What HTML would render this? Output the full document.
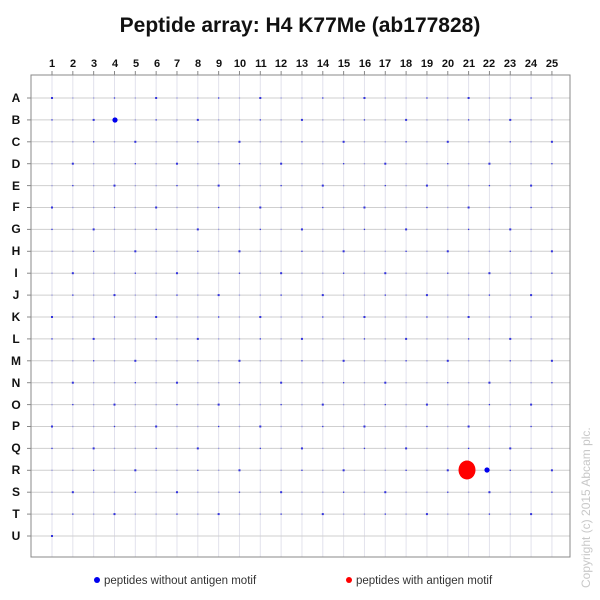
<!DOCTYPE html>
<html><head><meta charset="utf-8"><style>
html,body{margin:0;padding:0;background:#fff;width:600px;height:600px;overflow:hidden}
svg{display:block}
text{font-family:"Liberation Sans",Arial,sans-serif}
</style></head><body>
<svg id="s" width="600" height="600" xmlns="http://www.w3.org/2000/svg">
<rect width="600" height="600" fill="#fff"/>
<text x="300" y="32" text-anchor="middle" font-size="21" font-weight="bold" fill="#111">Peptide array:  H4 K77Me (ab177828)</text>
<g id="grid"></g>
<rect x="31" y="75" width="539" height="482" fill="none" stroke="#888" stroke-width="1"/>
<g font-size="11" font-weight="bold" fill="#111" text-anchor="middle">
<text x="52" y="67">1</text><text x="73" y="67">2</text><text x="94" y="67">3</text><text x="115" y="67">4</text><text x="136" y="67">5</text><text x="157" y="67">6</text><text x="177" y="67">7</text><text x="198" y="67">8</text><text x="219" y="67">9</text><text x="240" y="67">10</text><text x="261" y="67">11</text><text x="281" y="67">12</text><text x="302" y="67">13</text><text x="323" y="67">14</text><text x="344" y="67">15</text><text x="365" y="67">16</text><text x="385" y="67">17</text><text x="406" y="67">18</text><text x="427" y="67">19</text><text x="448" y="67">20</text><text x="469" y="67">21</text><text x="489" y="67">22</text><text x="510" y="67">23</text><text x="531" y="67">24</text><text x="552" y="67">25</text>
</g>
<g font-size="12" font-weight="bold" fill="#111" text-anchor="middle">
<text x="16" y="102">A</text><text x="16" y="124">B</text><text x="16" y="146">C</text><text x="16" y="168">D</text><text x="16" y="190">E</text><text x="16" y="211">F</text><text x="16" y="233">G</text><text x="16" y="255">H</text><text x="16" y="277">I</text><text x="16" y="299">J</text><text x="16" y="321">K</text><text x="16" y="343">L</text><text x="16" y="365">M</text><text x="16" y="387">N</text><text x="16" y="409">O</text><text x="16" y="430">P</text><text x="16" y="452">Q</text><text x="16" y="474">R</text><text x="16" y="496">S</text><text x="16" y="518">T</text><text x="16" y="540">U</text>
</g>
<g id="dots"></g>
<circle cx="115" cy="120" r="2.6" fill="#0000ee"/>
<circle cx="487" cy="470" r="2.6" fill="#0000ee"/>
<ellipse cx="467" cy="470" rx="8.5" ry="9.5" fill="#ff0000"/>
<circle cx="97" cy="580" r="3" fill="#0000ee"/>
<text x="104" y="584" font-size="11.5" fill="#333">peptides without antigen motif</text>
<circle cx="349" cy="580" r="3" fill="#ff0000"/>
<text x="356" y="584" font-size="11.5" fill="#333">peptides with antigen motif</text>
<text transform="translate(590,588) rotate(-90)" font-size="12" fill="#c8c8c8">Copyright (c) 2015 Abcam plc.</text>
</svg>
<script>
var ns="http://www.w3.org/2000/svg",g=document.getElementById("grid"),d=document.getElementById("dots");
function X(c){return 52+c*20.83}function Y(r){return 98+r*21.9}
for(var c=0;c<25;c++){var l=document.createElementNS(ns,"line");l.setAttribute("x1",X(c));l.setAttribute("x2",X(c));l.setAttribute("y1",75);l.setAttribute("y2",557);l.setAttribute("stroke","#e2e2ec");g.appendChild(l);
var t=document.createElementNS(ns,"line");t.setAttribute("x1",X(c));t.setAttribute("x2",X(c));t.setAttribute("y1",71);t.setAttribute("y2",75);t.setAttribute("stroke","#888");g.appendChild(t);}
for(var r=0;r<21;r++){var l=document.createElementNS(ns,"line");l.setAttribute("x1",31);l.setAttribute("x2",570);l.setAttribute("y1",Y(r));l.setAttribute("y2",Y(r));l.setAttribute("stroke","#cfcfcf");g.appendChild(l);
var t=document.createElementNS(ns,"line");t.setAttribute("x1",27);t.setAttribute("x2",31);t.setAttribute("y1",Y(r));t.setAttribute("y2",Y(r));t.setAttribute("stroke","#888");g.appendChild(t);
for(var c=0;c<25;c++){var k=(r*31+c*17)%5;if(r==20&&c>0)continue;var q=document.createElementNS(ns,"rect");var s=k==0?2:1.3;q.setAttribute("x",X(c)-s/2);q.setAttribute("y",Y(r)-s/2);q.setAttribute("width",s);q.setAttribute("height",s);q.setAttribute("fill",k<2?"#3333dd":"#9999dd");d.appendChild(q);}}
</script>
</body></html>
